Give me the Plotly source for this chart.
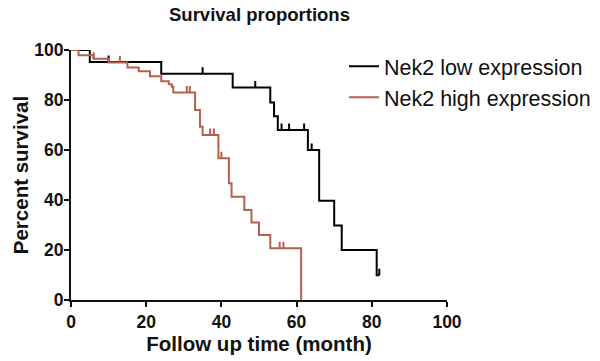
import plotly.graph_objects as go
import numpy as np

# ---- data ----
low_time = [0, 5, 24, 43, 53, 54, 55, 63, 66, 70, 72, 81.3, 82]
low_surv = [100, 95.2, 90.5, 85, 79, 73.5, 68, 60, 39.7, 29.8, 20, 9.9, 9.9]
low_censor = [10, 35, 49, 56, 58, 62, 64, 82]

high_time = [0, 2, 6, 10, 15, 18, 21, 24, 26, 26.8, 27.2, 33, 34.3, 35, 39.2, 42, 42.7, 46.1, 48, 50, 53, 61.2]
high_surv = [100, 97.9, 96.5, 95, 93, 91.5, 89.5, 87.5, 86.3, 85.3, 83, 76, 69.3, 66, 56.7, 46.7, 41.3, 36, 31, 26, 20.7, 0]
high_censor = [6, 13, 30.8, 31.6, 37, 38, 40, 55.5, 56.5]

series_names = ["Nek2 low expression", "Nek2 high expression"]
series_colors = ["#000000", "#B3614B"]
x_ticks = [0, 20, 40, 60, 80, 100]
y_ticks = [0, 20, 40, 60, 80, 100]


def surv_at(times, survs, t):
    idx = np.searchsorted(np.array(times), t, side="right") - 1
    return survs[max(idx, 0)]


fig = go.Figure()
groups = [(low_time, low_surv, low_censor), (high_time, high_surv, high_censor)]
for (tt, ss, cc), name, col in zip(groups, series_names, series_colors):
    fig.add_trace(go.Scatter(
        x=tt, y=ss, mode="lines", line=dict(color=col, width=2, shape="hv"),
        name=name, cliponaxis=False, showlegend=True))
    cy = [surv_at(tt, ss, c) for c in cc]
    fig.add_trace(go.Scatter(
        x=cc, y=cy, mode="markers", marker=dict(size=1, color=col, opacity=0),
        error_y=dict(type="data", symmetric=False, array=[2.6] * len(cc),
                     arrayminus=[0] * len(cc), width=0, thickness=2, color=col),
        showlegend=False, hoverinfo="skip", cliponaxis=False))

font_family = "Arial, Liberation Sans, sans-serif"
fig.update_layout(
    width=600, height=361,
    margin=dict(l=71, r=153, t=50, b=61, autoexpand=False),
    paper_bgcolor="white", plot_bgcolor="white",
    title=dict(text="<b>Survival proportions</b>", x=(259.5 / 600), xanchor="center",
               y=(361 - 15.0) / 361, yanchor="middle",
               font=dict(family=font_family, size=18.5, color="#111")),
    font=dict(family=font_family, color="#111"),
    legend=dict(x=0.726, y=1.017, xanchor="left", yanchor="top",
                font=dict(family=font_family, size=21.5, color="#111"),
                itemwidth=30, bgcolor="rgba(0,0,0,0)"),
    showlegend=True,
)
fig.update_xaxes(range=[0, 100], tickvals=x_ticks, ticks="outside", ticklen=5,
                 tickwidth=2, tickcolor="#111", showline=True, linewidth=2,
                 linecolor="#111", showgrid=False, zeroline=False,
                 tickfont=dict(family=font_family, size=17.5, color="#111", weight="bold"),
                 title=dict(text="<b>Follow up time (month)</b>", standoff=6,
                            font=dict(family=font_family, size=20.5, color="#111")))
fig.update_yaxes(range=[0, 100], tickvals=y_ticks, ticks="outside", ticklen=5,
                 tickwidth=2, tickcolor="#111", showline=True, linewidth=2,
                 linecolor="#111", showgrid=False, zeroline=False,
                 ticklabelstandoff=-3,
                 tickfont=dict(family=font_family, size=17.5, color="#111", weight="bold"),
                 title=dict(text="<b>Percent survival</b>", standoff=0,
                            font=dict(family=font_family, size=20.5, color="#111")))

fig.write_html("out.html", config={"displayModeBar": False},
               post_script="document.body.style.margin='0';")
